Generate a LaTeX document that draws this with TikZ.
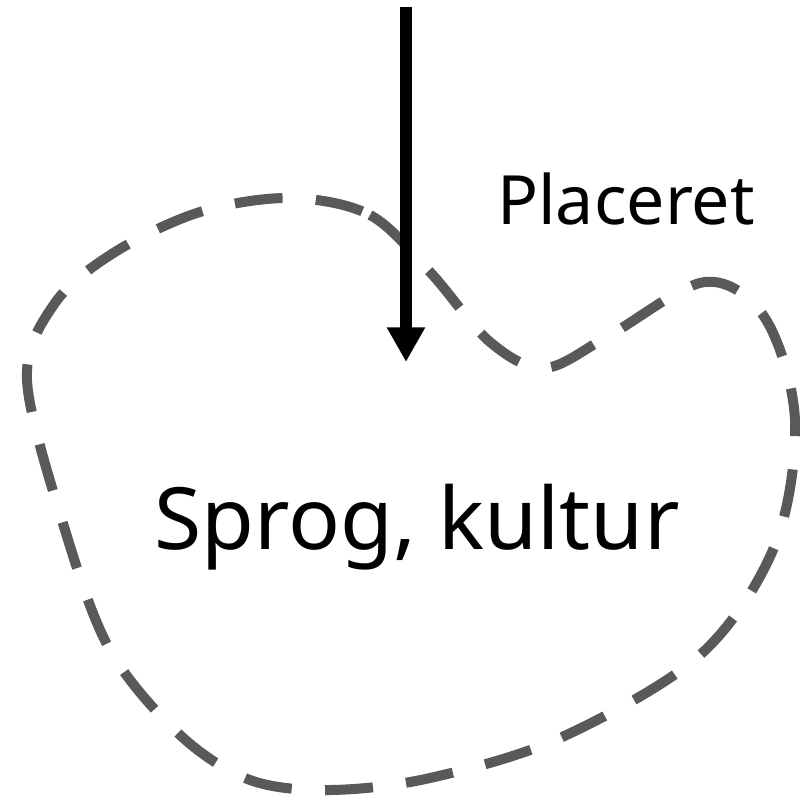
\documentclass[tikz,border=0pt]{standalone}
\usepackage{fontspec}
\setmainfont{Noto Sans}
\usetikzlibrary{arrows.meta}
\definecolor{outlinegray}{HTML}{595959}
\begin{document}
\begin{tikzpicture}[x=0.75pt,y=-0.75pt,
  region/.style={draw=outlinegray, line width=7.5pt, line cap=butt, dash pattern=on 36pt off 25pt},
  bigarrow/.style={draw=black, line width=9pt, -{Triangle[length=26pt,width=27pt]}},
  label/.style={inner sep=0pt, anchor=base, text=black}]
\useasboundingbox (0,0) rectangle (800,798);
\draw[region] plot[smooth cycle, tension=0.55] coordinates {
  (290,198) (370,215) (430,272) (490,342) (545,368) (610,335) (705,282)
  (765,318) (795,420) (775,545) (700,655) (560,738) (430,778) (330,790)
  (250,780) (180,735) (110,650) (65,530) (27,380) (55,303) (115,252) (200,212)};
\coordinate (top) at (406,7);
\coordinate (tip) at (406,362);
\draw[bigarrow] (top) -- (tip);
\node[label, font=\fontsize{51}{55}\selectfont] (placeret) at (626,225) {Placeret};
\node[label, font=\fontsize{64.5}{68}\selectfont] (sprog) at (417,549) {Sprog, kultur};
\end{tikzpicture}
\end{document}
